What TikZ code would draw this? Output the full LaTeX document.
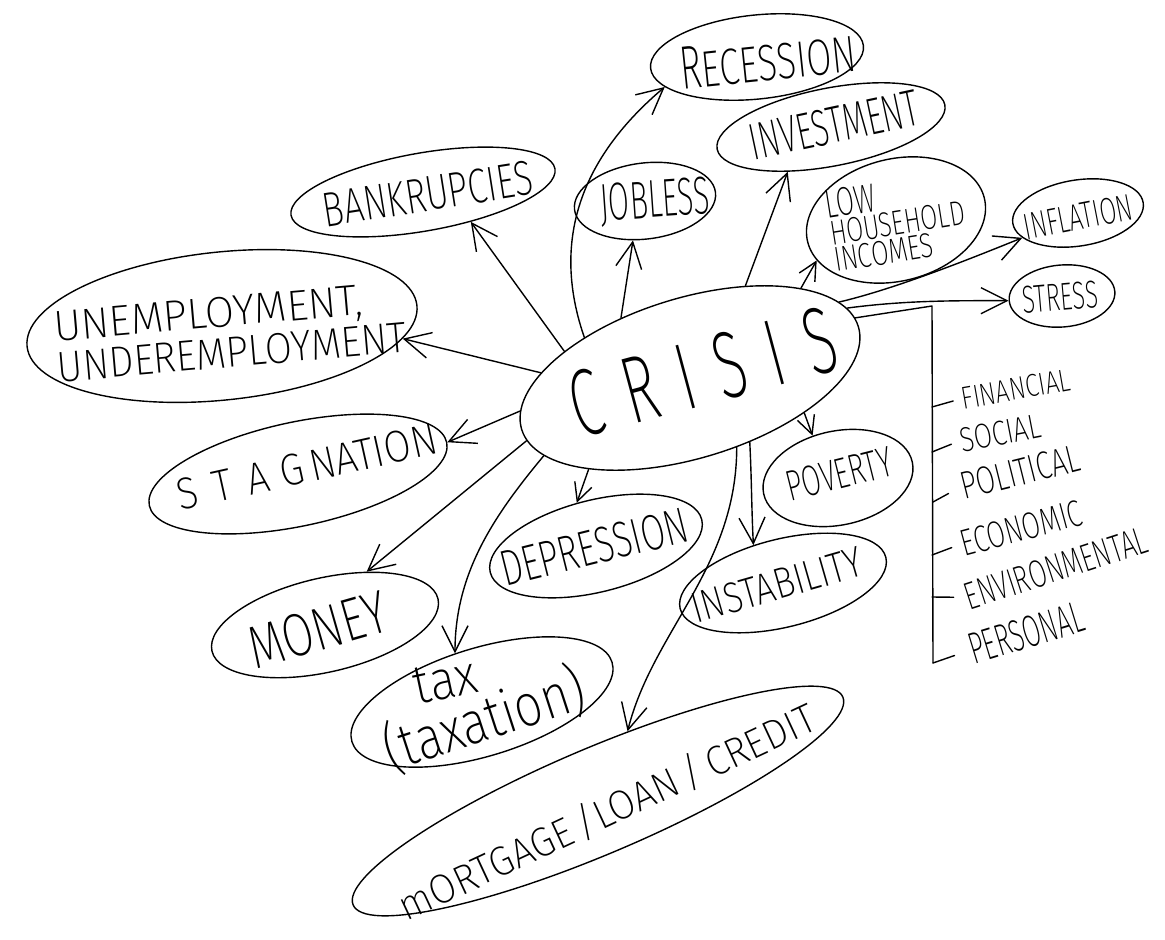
\documentclass[tikz,border=0pt]{standalone}
\usepackage{fontspec}
\usepackage{graphicx}
\usetikzlibrary{shapes.geometric,arrows.meta}
\newfontfamily\handfont{Fira Sans ExtraLight}
\newcommand{\hw}[3]{\resizebox{#1pt}{#2pt}{\handfont #3}}
\newcommand{\hwt}[3]{\resizebox*{#1pt}{#2pt}{\handfont #3}}
\newcommand{\lsp}{\hspace{0.4em}}
\begin{document}
\begin{tikzpicture}[x=1pt,y=-1pt,line width=1.4pt,line cap=round,line join=round,
  bub/.style={draw,ellipse,inner sep=0pt},
  lab/.style={inner sep=0pt,outer sep=0pt},
  arr/.style={-{Straight Barb[length=26pt,width=26pt]}},
  arrs/.style={-{Straight Barb[length=18pt,width=18pt]}}]
\fill[white] (0,0) rectangle (1165,940);
\useasboundingbox (0,0) rectangle (1165,940);

% ---------- bubbles ----------
\node[bub,minimum width=352pt,minimum height=160pt,rotate=17] (crisis) at (690,378) {};
\node[lab,rotate=15] (crisisT) at (703,372) {\hw{272}{66}{C\lsp R\lsp I\lsp S\lsp I\lsp S}};

\node[bub,minimum width=214pt,minimum height=84pt,rotate=6] (recession) at (757,57) {};
\node[lab,rotate=6] (recessionT) at (768,60) {\hw{176}{42}{\scalebox{1}[1.2]{R}ECESSION}};

\node[bub,minimum width=232pt,minimum height=78pt,rotate=11] (invest) at (831,127) {};
\node[lab,rotate=12] (investT) at (834,125) {\hw{172}{36}{INVESTMENT}};

\node[bub,minimum width=142pt,minimum height=76pt,rotate=7] (jobless) at (645,201) {};
\node[lab,rotate=4] (joblessT) at (655,202) {\hw{110}{37}{JOBLESS}};

\node[bub,minimum width=268pt,minimum height=78pt,rotate=10] (bank) at (423,192) {};
\node[lab,rotate=9] (bankT) at (428,194) {\hw{212}{34}{BANKRUPCIES}};

\node[bub,minimum width=182pt,minimum height=122pt,rotate=14] (lowinc) at (896,220) {};
\node[lab,rotate=9,align=left,font=\fontsize{10}{27}\selectfont] (lowincT) at (897,221)
  {\hw{50}{28}{LOW}\\\hw{136}{24}{HOUSEHOLD}\\\hw{100}{24}{INCOMES}};

\node[bub,minimum width=132pt,minimum height=66pt,rotate=9] (infl) at (1078,213) {};
\node[lab,rotate=11] (inflT) at (1078,217) {\hw{110}{26}{INFLATION}};

\node[bub,minimum width=106pt,minimum height=62pt,rotate=5] (stress) at (1062,296) {};
\node[lab,rotate=5] (stressT) at (1060,297) {\hw{76}{27}{STRESS}};

\node[bub,minimum width=392pt,minimum height=148pt,rotate=6] (unemp) at (222,326) {};
\node[lab,rotate=5,align=left,font=\fontsize{10}{41}\selectfont] (unempT) at (230,332)
  {\hw{310}{30}{UNEMPLOYMENT,}\\\hw{350}{30}{UNDEREMPLOYMENT}};

\node[bub,minimum width=304pt,minimum height=104pt,rotate=12] (stag) at (298,474) {};
\node[lab,rotate=12.5] (stagT) at (307,467) {\hw{265}{31}{S\lsp T\lsp A\hspace{.3em}G\hspace{.15em}NATION}};

\node[bub,minimum width=232pt,minimum height=94pt,rotate=13] (money) at (325,625) {};
\node[lab,rotate=16] (moneyT) at (318,630) {\hw{142}{42}{MONEY}};

\node[bub,minimum width=218pt,minimum height=92pt,rotate=14] (depr) at (596,546) {};
\node[lab,rotate=14] (deprT) at (594,547) {\hw{192}{35}{DEPRESSION}};

\node[bub,minimum width=152pt,minimum height=94pt,rotate=12] (pov) at (838,478) {};
\node[lab,rotate=14] (povT) at (839,474) {\hw{108}{30}{POVERTY}};

\node[bub,minimum width=212pt,minimum height=88pt,rotate=14] (instab) at (783,583) {};
\node[lab,rotate=16] (instabT) at (777,585) {\hw{176}{30}{INSTABILITY}};

\node[bub,minimum width=272pt,minimum height=108pt,rotate=17] (tax) at (482,702) {};
\node[lab,rotate=12] (taxT) at (445,681) {\hw{64}{36}{tax}};
\node[lab,rotate=18] (taxT2) at (484,719) {\hwt{208}{58}{(taxation)}};

\node[bub,minimum width=532pt,minimum height=106pt,rotate=23] (mort) at (598,801) {};
\node[lab,rotate=25] (mortT) at (607,812) {\hw{455}{33}{mORTGAGE\,/LOAN\,/\,CREDIT}};

% ---------- kinds of crisis ----------
\node[lab,rotate=10] (fin) at (1016,389) {\hw{110}{22}{FINANCIAL}};
\node[lab,rotate=11] (soc) at (1000,433) {\hw{82}{24}{SOCIAL}};
\node[lab,rotate=14] (pol) at (1020,472) {\hw{122}{27}{POLITICAL}};
\node[lab,rotate=15] (eco) at (1021,528) {\hw{124}{26}{ECONOMIC}};
\node[lab,rotate=18] (env) at (1056,568) {\hw{190}{27}{ENVIRONMENTAL}};
\node[lab,rotate=17] (pers) at (1026,633) {\hw{118}{31}{PERSONAL}};

\coordinate (bt) at (932,306);
\coordinate (bb) at (933,663);
\coordinate (k1) at (932,407);
\coordinate (k2) at (932,452);
\coordinate (k3) at (933,502);
\coordinate (k4) at (932,555);
\coordinate (k5) at (932,597);
\draw (crisis.3) -- (bt) -- (bb);
\draw[shorten >=9pt] (k1) -- (fin.west);
\draw[shorten >=9pt] (k2) -- (soc.west);
\draw[shorten >=14pt] (k3) -- (pol.west);
\draw[shorten >=10pt] (k4) -- (eco.west);
\draw[shorten >=12pt] (k5) -- (env.west);
\draw[shorten >=16pt] (bb) -- (pers.west);

% ---------- arrows ----------
\draw[arr] (crisis.142) .. controls +(-40,-115) and +(-65,55) .. (recession.192);
\draw[arr] (crisis.151) -- (bank.-42);
\draw[arr] (crisis.122) -- (jobless.246);
\draw[arr] (crisis.42) -- (invest.215);
\draw[arrs] (crisis.22) -- (lowinc.193);
\draw[arr] (crisis.10) .. controls +(60,-14) and +(-40,16) .. (infl.195);
\draw[arr] (crisis.7) .. controls +(60,-8) and +(-50,0) .. (stress.180);
\draw[arr] (crisis.161) -- (unemp.-10);
\draw[arr] (crisis.174) -- (stag.0);
\draw[arr] (crisis.184) -- (money.39);
\draw[arr] (crisis.191) .. controls +(-50,60) and +(0,-80) .. (tax.102);
\draw[arrs] (crisis.205) -- (depr.100);
\draw[arr] (crisis.-73) .. controls +(0,120) and +(25,-100) .. (mort.44);
\draw[arr] (crisis.-64) .. controls +(2,40) and +(-2,-40) .. (instab.114);
\draw[arrs] (crisis.-34) -- (pov.109);
\end{tikzpicture}
\end{document}
